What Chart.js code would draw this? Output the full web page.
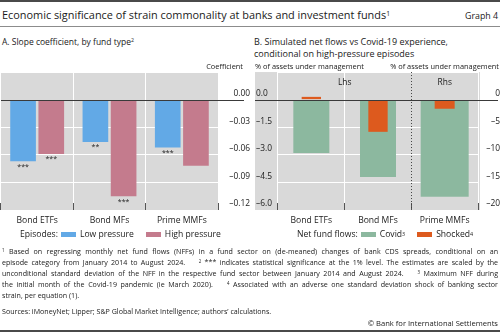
<!DOCTYPE html>
<html>
<head>
<meta charset="utf-8">
<script src="https://cdn.jsdelivr.net/npm/chart.js@4.4.1/dist/chart.umd.min.js"></script>
<style>
  body { margin: 0; width: 500px; height: 332px; position: relative; overflow: hidden; background: #fff;
         font-family: "Open Sans", sans-serif; color: #1a1a1a; }
  .abs { position: absolute; white-space: nowrap; }
  .rule { position: absolute; left: 0; width: 500px; }
  sup { font-size: 62%; line-height: 0; vertical-align: 0.5em; }
  canvas { position: absolute; }
  .legend { position: absolute; display: flex; align-items: center; font-size: 8.6px; line-height: 12px; white-space: nowrap; }
  .legend .sw { display: inline-block; width: 15px; height: 5px; margin: 0 4px 0 0; }
  .legend .item { display: flex; align-items: center; margin-right: 12px; }
  .notes { position: absolute; left: 2px; top: 246px; width: 496px; font-size: 7.1px; line-height: 11px; }
  .notes div { text-align: justify; text-align-last: justify; white-space: nowrap; }
  .notes div.last { text-align-last: left; }
</style>
</head>
<body>
<div class="rule" style="top:0;height:1.5px;background:#4a4a4a"></div>
<div class="abs" style="left:2px;top:8px;font-size:10.9px;line-height:14px">Economic significance of strain commonality at banks and investment funds<sup>1</sup></div>
<div class="abs" style="right:2px;top:10px;font-size:8.8px;line-height:12px">Graph 4</div>
<div class="rule" style="top:26px;height:1px;background:#8c8c8c"></div>
<div class="abs" style="left:2px;top:36px;font-size:8.5px;line-height:12px">A. Slope coefficient, by fund type<sup>2</sup></div>
<div class="abs" style="left:254px;top:36px;font-size:9px;line-height:12px">B. Simulated net flows vs Covid-19 experience,<br>conditional on high-pressure episodes</div>

<canvas id="slopeChart" width="250" height="170" style="left:0;top:60px"></canvas>
<canvas id="flowChart" width="250" height="170" style="left:250px;top:60px"></canvas>

<div class="legend" id="slopeLegend" style="left:20px;top:228px"></div>
<div class="legend" id="flowLegend" style="left:297px;top:228px"></div>

<div class="notes">
  <div><sup>1</sup> Based on regressing monthly net fund flows (NFFs) in a fund sector on (de-meaned) changes of bank CDS spreads, conditional on an</div>
  <div>episode category from January 2014 to August 2024.&nbsp;&nbsp;&nbsp; <sup>2</sup> *** indicates statistical significance at the 1% level. The estimates are scaled by the</div>
  <div>unconditional standard deviation of the NFF in the respective fund sector between January 2014 and August 2024.&nbsp;&nbsp;&nbsp; <sup>3</sup> Maximum NFF during</div>
  <div>the initial month of the Covid-19 pandemic (ie March 2020).&nbsp;&nbsp;&nbsp; <sup>4</sup> Associated with an adverse one standard deviation shock of banking sector</div>
  <div class="last">strain, per equation (1).</div>
</div>
<div class="abs" style="left:2px;top:305px;font-size:7.1px;line-height:12px">Sources: iMoneyNet; Lipper; S&amp;P Global Market Intelligence; authors’ calculations.</div>
<div class="abs" style="right:2px;top:317px;font-size:7.6px;line-height:12px">© Bank for International Settlements</div>
<div class="rule" style="top:330px;height:1.5px;background:#4a4a4a"></div>

<script>
const fundTypes = ["Bond ETFs", "Bond MFs", "Prime MMFs"];

// Panel A: slope coefficients, by episode type
const lowPressure = [-0.067, -0.046, -0.052];
const highPressure = [-0.059, -0.105, -0.072];
const lowStars = ["***", "**", "***"];
const highStars = ["***", "***", ""];
const coefRange = { min: -0.12, max: 0.03, step: 0.03 };

// Panel B: simulated net flows, % of assets under management
const covidFlows = [-2.9, -4.2, -17.6];
const shockedFlows = [0.15, -1.75, -1.65];
const flowSide = ["lhs", "lhs", "rhs"];
const lhsRange = { min: -6, max: 1.5, step: 1.5 };
const rhsRange = { min: -20, max: 5, step: 5 };

const FONT = '"Open Sans", sans-serif';
const INK = "#1a1a1a";
const PANEL_BG = "#d9d9d9";
const colours = {
  low: "#62a9e6",
  high: "#c47b8d",
  covid: "#8cb89f",
  shocked: "#dd5a1e",
};

Chart.defaults.font.family = FONT;
Chart.defaults.font.size = 8.4;
Chart.defaults.color = INK;

// BIS-style number format: en dash for negatives, nothing above zero
function fmt(v, dp) {
  if (v > 1e-9) return "";
  if (Math.abs(v) < 1e-9) return (0).toFixed(dp);
  return "\u2013" + Math.abs(v).toFixed(dp);
}

// grey plot background, optionally widened to the left
function backdrop(extraLeft, extraRight) {
  return {
    id: "backdrop",
    beforeDraw(chart) {
      const { ctx, chartArea: a } = chart;
      ctx.save();
      ctx.fillStyle = PANEL_BG;
      ctx.fillRect(a.left - extraLeft, a.top, a.right - a.left + extraLeft + extraRight, a.bottom - a.top);
      ctx.restore();
    },
  };
}

// zero line running through the tick label area
function zeroLine(axisId, x0, x1) {
  return {
    id: "zeroLine",
    afterDatasetsDraw(chart) {
      const { ctx } = chart;
      const y = Math.round(chart.scales[axisId].getPixelForValue(0)) + 0.5;
      ctx.save();
      ctx.strokeStyle = "#3a3a3a";
      ctx.lineWidth = 1;
      ctx.beginPath();
      ctx.moveTo(x0, y);
      ctx.lineTo(x1, y);
      ctx.stroke();
      ctx.restore();
    },
  };
}

function note(ctx, text, x, y, align) {
  ctx.save();
  ctx.font = "7.4px " + FONT;
  ctx.fillStyle = INK;
  ctx.textAlign = align;
  ctx.textBaseline = "middle";
  ctx.fillText(text, x, y);
  ctx.restore();
}

const xAxis = {
  grid: {
    offset: true,
    color: "#ffffff",
    lineWidth: 1,
    drawTicks: true,
    tickLength: -7,
    tickColor: "#555555",
    tickWidth: 1,
  },
  border: { display: false },
  ticks: { padding: 12, font: { size: 8.6 } },
  afterFit(s) { s.height = 20; },
};

// ---- Panel A ----
const starsPlugin = {
  id: "stars",
  afterDatasetsDraw(chart) {
    const { ctx } = chart;
    ctx.save();
    ctx.font = "7px " + FONT;
    ctx.fillStyle = INK;
    ctx.textAlign = "center";
    ctx.textBaseline = "top";
    [lowStars, highStars].forEach((marks, di) => {
      chart.getDatasetMeta(di).data.forEach((bar, i) => {
        if (marks[i]) ctx.fillText(marks[i], bar.x, bar.y + 2);
      });
    });
    ctx.restore();
  },
};

const slopeChart = new Chart(document.getElementById("slopeChart"), {
  type: "bar",
  data: {
    labels: fundTypes,
    datasets: [
      { label: "Low pressure", data: lowPressure, backgroundColor: colours.low },
      { label: "High pressure", data: highPressure, backgroundColor: colours.high },
    ],
  },
  options: {
    responsive: false,
    animation: false,
    devicePixelRatio: 1,
    layout: { padding: { top: 12, left: 1, right: 0, bottom: 0 } },
    datasets: { bar: { categoryPercentage: 0.78, barPercentage: 0.91, borderWidth: 0 } },
    plugins: { legend: { display: false }, tooltip: { enabled: false } },
    scales: {
      x: xAxis,
      y: {
        position: "right",
        min: coefRange.min,
        max: coefRange.max,
        ticks: {
          stepSize: coefRange.step,
          callback: (v) => fmt(v, 2),
          labelOffset: -6,
          crossAlign: "far",
          padding: 4,
        },
        grid: { color: (c) => (Math.abs(c.tick.value) < 1e-9 ? "rgba(0,0,0,0)" : "#ffffff"), drawTicks: false },
        border: { display: false },
        afterFit(s) { s.width = 32; },
      },
    },
  },
  plugins: [
    backdrop(0, 0),
    zeroLine("y", 1, 244),
    starsPlugin,
    {
      id: "unitLabel",
      afterDraw(chart) { note(chart.ctx, "Coefficient", 243, 7, "right"); },
    },
  ],
});

// ---- Panel B ----
const pick = (vals, side) => vals.map((v, i) => (flowSide[i] === side ? v : null));

const flowChart = new Chart(document.getElementById("flowChart"), {
  type: "bar",
  data: {
    labels: fundTypes,
    datasets: [
      { label: "Covid", data: pick(covidFlows, "lhs"), yAxisID: "yL", backgroundColor: colours.covid, barPercentage: 0.54, order: 1 },
      { label: "Covid", data: pick(covidFlows, "rhs"), yAxisID: "yR", backgroundColor: colours.covid, barPercentage: 0.72, order: 1 },
      { label: "Shocked", data: pick(shockedFlows, "lhs"), yAxisID: "yL", backgroundColor: colours.shocked, barPercentage: 0.29, order: 0 },
      { label: "Shocked", data: pick(shockedFlows, "rhs"), yAxisID: "yR", backgroundColor: colours.shocked, barPercentage: 0.3, order: 0 },
    ],
  },
  options: {
    responsive: false,
    animation: false,
    devicePixelRatio: 1,
    layout: { padding: { top: 12, left: 6, right: 0, bottom: 0 } },
    datasets: { bar: { categoryPercentage: 1, grouped: false, borderWidth: 0 } },
    plugins: { legend: { display: false }, tooltip: { enabled: false } },
    scales: {
      x: {
        ...xAxis,
        grid: { ...xAxis.grid, color: (c) => (c.index === 2 ? "rgba(0,0,0,0)" : "#ffffff") },
      },
      yL: {
        position: "left",
        min: lhsRange.min,
        max: lhsRange.max,
        ticks: {
          stepSize: lhsRange.step,
          callback: (v) => fmt(v, 1),
          labelOffset: -6,
          crossAlign: "far",
        },
        grid: { color: (c) => (Math.abs(c.tick.value) < 1e-9 ? "rgba(0,0,0,0)" : "#ffffff"), drawTicks: false },
        border: { display: false },
        afterFit(s) { s.width = 22; },
      },
      yR: {
        position: "right",
        min: rhsRange.min,
        max: rhsRange.max,
        ticks: {
          stepSize: rhsRange.step,
          callback: (v) => fmt(v, 0),
          labelOffset: -6,
          crossAlign: "far",
          padding: 7,
        },
        grid: { drawOnChartArea: false, drawTicks: false },
        border: { display: false },
        afterFit(s) { s.width = 22; },
      },
    },
  },
  plugins: [
    backdrop(23, 2),
    zeroLine("yL", 5, 248),
    {
      id: "sides",
      afterDatasetsDraw(chart) {
        const { ctx, chartArea: a } = chart;
        const x = chart.scales.x;
        const split = Math.round((x.getPixelForValue(1) + x.getPixelForValue(2)) / 2) + 0.5;
        ctx.save();
        ctx.strokeStyle = "#444";
        ctx.lineWidth = 1;
        ctx.setLineDash([1, 2]);
        ctx.beginPath();
        ctx.moveTo(split, a.top);
        ctx.lineTo(split, a.bottom);
        ctx.stroke();
        ctx.restore();
        ctx.save();
        ctx.font = "8.4px " + FONT;
        ctx.fillStyle = INK;
        ctx.textAlign = "center";
        ctx.textBaseline = "middle";
        ctx.fillText("Lhs", (a.left + split) / 2, a.top + 11);
        ctx.fillText("Rhs", (split + a.right) / 2, a.top + 11);
        ctx.restore();
      },
    },
    {
      id: "unitLabels",
      afterDraw(chart) {
        note(chart.ctx, "% of assets under management", 5, 7, "left");
        note(chart.ctx, "% of assets under management", 249, 7, "right");
      },
    },
  ],
});

// HTML legends built from the chart datasets
function buildLegend(el, caption, chart, indices, notes) {
  const parts = ['<span style="margin-right:3px">' + caption + "</span>"];
  indices.forEach((di, k) => {
    const ds = chart.data.datasets[di];
    parts.push(
      '<span class="item"><span class="sw" style="background:' + ds.backgroundColor + '"></span>' +
      ds.label + (notes[k] ? "<sup>" + notes[k] + "</sup>" : "") + "</span>"
    );
  });
  el.innerHTML = parts.join("");
}

buildLegend(document.getElementById("slopeLegend"), "Episodes:", slopeChart, [0, 1], ["", ""]);
buildLegend(document.getElementById("flowLegend"), "Net fund flows:", flowChart, [0, 2], ["3", "4"]);
</script>
</body>
</html>
